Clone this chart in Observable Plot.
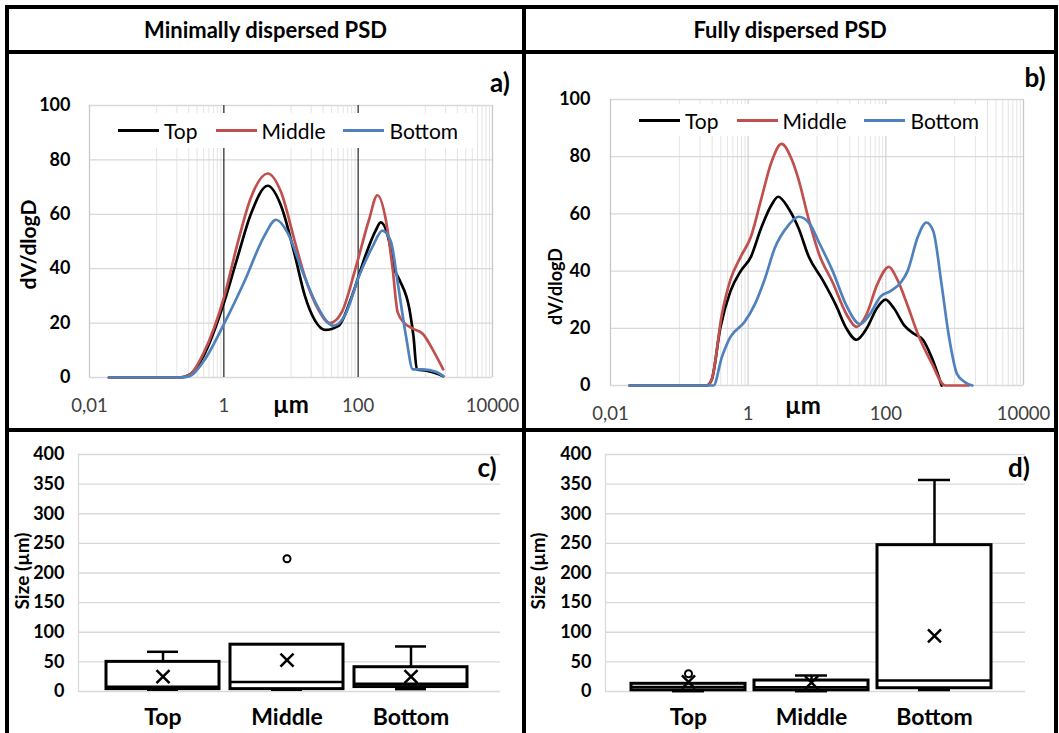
<!DOCTYPE html>
<html><head><meta charset="utf-8">
<script src="https://cdn.jsdelivr.net/npm/d3@7"></script>
<script src="https://cdn.jsdelivr.net/npm/@observablehq/plot@0.6"></script>
<style>
body{margin:0;background:#fff;font-family:Lato,sans-serif;}
#fig{position:relative;width:1059px;height:733px;overflow:hidden;background:#fff}
.bar{position:absolute;background:#000;z-index:5}
.hdr{position:absolute;top:9px;height:41px;display:flex;align-items:center;justify-content:center;font-weight:bold;font-size:22px;color:#000}
.legend{position:absolute;background:#fff;display:flex;align-items:center;font-size:21px;color:#000;box-sizing:border-box;z-index:3}
.legend .it{display:flex;align-items:center;margin-right:18px}
.legend .sw{display:inline-block;width:41px;height:3px;margin-right:5px}
.tag{position:absolute;font-weight:bold;font-size:26px;transform:translate(-50%,-50%);z-index:4}
</style></head>
<body>
<div id="fig"></div>
<script>
// ---------- data ----------
const series = ["Top", "Middle", "Bottom"];
const colors = ["#000000", "#c0504d", "#4f81bd"];
const sizeTicks = [0.01, 1, 100, 10000];
const sizeTickLabels = ["0,01", "1", "100", "10000"];
const minorGrid = [0.1,0.2,0.3,0.4,0.5,0.6,0.7,0.8,0.9,10,20,30,40,50,60,70,80,90,1000,2000,3000,4000,5000,6000,7000,8000,9000];
const psdTicks = [0, 20, 40, 60, 80, 100];
const boxTicks = [0, 50, 100, 150, 200, 250, 300, 350, 400];

// Panel a: minimally dispersed PSD  [size µm, dV/dlogD]
const aTop = [[0.0195,0],[0.22,0],[0.31,1],[0.5,8],[1.02,28],[1.59,44],[2.52,60],[4.5,70.5],[7.15,63],[11.4,45],[16.1,30],[22.7,21],[32,17.5],[51,19],[81,30],[129,45],[182,54],[217,57],[290,50],[345,40],[410,36],[581,25],[667,15],[748,3],[1035,2.5],[1466,1.5],[1846,0.5]];
const aMiddle = [[0.0195,0],[0.22,0],[0.31,1],[0.5,9],[1.02,30],[1.59,49],[2.52,66],[4.5,75],[7.15,68],[11.4,50],[16.1,37],[25.5,25],[38,20],[57,24],[91,40],[145,58],[193,67],[258,58],[326,40],[387,24],[488,20],[652,18],[922,16],[1306,10],[1846,3]];
const aBottom = [[0.0195,0],[0.22,0],[0.31,0.5],[0.5,6],[1.02,20],[2.0,35],[4.0,52],[6.0,58],[9.0,53],[14.3,40],[22.7,28],[36,20],[43,19],[64,23],[102,37],[163,48],[230,54],[307,50],[387,35],[517,15],[652,3],[922,3],[1466,2],[1846,0.5]];

// Panel b: fully dispersed PSD
const bTop = [[0.019,0],[0.25,0],[0.295,2],[0.393,20],[0.553,33],[0.778,40],[1.096,45],[1.54,55],[2.17,63],[2.73,66],[3.84,62],[5.4,55],[7.6,45],[12.0,37],[18.9,28],[26.7,20],[37.5,16],[52.8,20],[74,27],[99,30],[131,27],[185,21],[260,18],[346,16],[460,10],[648,0]];
const bMiddle = [[0.019,0],[0.25,0],[0.295,2],[0.416,25],[0.553,37],[0.778,45],[1.096,52],[1.54,65],[2.17,78],[3.05,84.5],[4.3,79],[5.4,72],[7.6,58],[10.7,46],[16.9,36],[26.7,25],[37.5,20.5],[52.8,25],[74,35],[111,41.5],[147,37],[207,28],[292,18],[460,8],[727,0],[1614,0]];
const bBottom = [[0.019,0],[0.313,0],[0.416,10],[0.553,17],[0.873,22],[1.228,28],[1.73,37],[2.43,48],[3.84,56],[5.4,59],[7.6,57],[10.7,50],[16.9,40],[26.7,28],[42,21.5],[59,25],[83,31],[117,33],[165,36],[207,40],[292,52],[388,57],[488,54],[648,35],[815,18],[1084,4],[1439,1],[1808,0]];

// Panel c: box plots, minimally dispersed (µm)
const cLow = [3, 3, 4];
const cQ1 = [4, 4, 7.5];
const cMedian = [8, 16, 13];
const cQ3 = [50, 79, 41];
const cHigh = [67, 79, 76];
const cMean = [25, 53, 25];
const cOutliers = [["Middle", 224]];

// Panel d: box plots, fully dispersed (µm)
const dLow = [0.5, 0.5, 2.5];
const dQ1 = [2, 2, 5.5];
const dMedian = [7.5, 7, 18.5];
const dQ3 = [13, 18.5, 247];
const dHigh = [13, 27, 357];
const dMean = [16, 15, 94];
const dOutliers = [["Top", 30]];

// ---------- layout helpers ----------
const fig = document.getElementById("fig");
function place(el, left, top) { el.style.position = "absolute"; el.style.left = left + "px"; el.style.top = top + "px"; fig.appendChild(el); }
function div(cls, css, html) { const d = document.createElement("div"); d.className = cls; Object.assign(d.style, css); if (html != null) d.innerHTML = html; fig.appendChild(d); return d; }

const fmt = new Map(sizeTicks.map((d, i) => [d, sizeTickLabels[i]]));
const psdRows = (sets) => sets.flatMap(([name, pts]) => pts.map(([size, value]) => ({series: name, size, value})));

function psdPanel(o) {
  const rows = psdRows(o.sets);
  return Plot.plot({
    width: o.w, height: o.h,
    marginLeft: o.ml, marginRight: o.mr, marginTop: o.mt, marginBottom: o.mb,
    style: {fontFamily: "Lato, sans-serif", background: "transparent", overflow: "visible"},
    x: {type: "log", domain: [0.01, 10000]},
    y: {domain: [0, 100]},
    color: {domain: series, range: colors},
    marks: [
      Plot.ruleX(minorGrid, {stroke: "#e4e4e4", strokeWidth: 1}),
      Plot.ruleY(psdTicks, {stroke: "#d9d9d9", strokeWidth: 1.3}),
      Plot.ruleX([0.01, 10000], {stroke: "#c8c8c8", strokeWidth: 1.3}),
      Plot.ruleX([1, 100], {stroke: o.major, strokeWidth: o.majorW}),
      Plot.line(rows, {x: "size", y: "value", z: "series", stroke: "series", strokeWidth: 2.7, curve: "monotone-x"}),
      Plot.axisX({ticks: sizeTicks, tickFormat: d => fmt.get(d), tickSize: 0, tickPadding: 21, fontSize: 18.5, fill: "#404040", label: null}),
      Plot.axisY({ticks: psdTicks, tickSize: 0, tickPadding: o.yPad, fontSize: 18, fontWeight: "bold", fill: "#000", label: null}),
      Plot.text(["µm"], {frameAnchor: "bottom", textAnchor: "middle", dx: o.unitDx, dy: o.unitDy, fontSize: 24, fontWeight: "bold", fill: "#000"}),
      Plot.text(["dV/dlogD"], {frameAnchor: "left", textAnchor: "middle", rotate: -90, dx: o.titleDx, dy: o.titleDy, fontSize: o.titleSize, fontWeight: "bold", fill: "#000"})
    ]
  });
}

function boxPanel(o) {
  const rows = series.map((g, i) => ({g, lo: o.lo[i], q1: o.q1[i], med: o.med[i], q3: o.q3[i], hi: o.hi[i], mean: o.mean[i]}));
  const outs = o.outliers.map(([g, v]) => ({g, v}));
  const k = {stroke: "#000"};
  return Plot.plot({
    width: o.w, height: o.h,
    marginLeft: o.ml, marginRight: o.mr, marginTop: o.mt, marginBottom: o.mb,
    style: {fontFamily: "Lato, sans-serif", background: "transparent", overflow: "visible"},
    x: {type: "band", domain: series, insetLeft: o.il, insetRight: o.ir, paddingInner: o.pi, paddingOuter: o.po},
    y: {domain: [0, 400]},
    marks: [
      Plot.ruleY(boxTicks, {stroke: "#d9d9d9", strokeWidth: 1.3}),
      Plot.frame({anchor: "left", stroke: "#d9d9d9", strokeWidth: 1.3}),
      Plot.ruleX(rows, {x: "g", y1: "q3", y2: "hi", ...k, strokeWidth: 2.5}),
      Plot.ruleX(rows, {x: "g", y1: "lo", y2: "q1", ...k, strokeWidth: 2.5}),
      Plot.tickY(rows, {x: "g", y: "hi", insetLeft: 41, insetRight: 41, ...k, strokeWidth: 2.5}),
      Plot.tickY(rows, {x: "g", y: "lo", insetLeft: 41, insetRight: 41, ...k, strokeWidth: 2.5}),
      Plot.barY(rows, {x: "g", y1: "q1", y2: "q3", fill: "#fff", ...k, strokeWidth: 3}),
      Plot.tickY(rows, {x: "g", y: "med", ...k, strokeWidth: 2.5}),
      Plot.dot(rows, {x: "g", y: "mean", symbol: "times", r: 6, ...k, strokeWidth: 2.5}),
      Plot.dot(outs, {x: "g", y: "v", r: 3.5, fill: "#fff", ...k, strokeWidth: 2}),
      Plot.axisX({tickSize: 0, tickPadding: 17, fontSize: 23, fontWeight: "bold", fill: "#000", label: null}),
      Plot.axisY({ticks: boxTicks, tickSize: 0, tickPadding: 14, fontSize: 18, fontWeight: "bold", fill: "#000", label: null}),
      Plot.text(["Size (µm)"], {frameAnchor: "left", textAnchor: "middle", rotate: -90, dx: o.titleDx, dy: -2, fontSize: 19, fontWeight: "bold", fill: "#000"})
    ]
  });
}

// ---------- panels ----------
place(psdPanel({sets: [["Top", aTop], ["Middle", aMiddle], ["Bottom", aBottom]],
  w: 512, h: 373, ml: 80, mr: 29, mt: 51, mb: 50, major: "#404040", majorW: 1.4, yPad: 19,
  unitDx: 0, unitDy: 35, titleDx: -60, titleDy: 3, titleSize: 21}), 9, 54);
place(psdPanel({sets: [["Top", bTop], ["Middle", bMiddle], ["Bottom", bBottom]],
  w: 528, h: 373, ml: 84, mr: 31, mt: 45, mb: 42, major: "#d4d4d4", majorW: 1.3, yPad: 20,
  unitDx: -14, unitDy: 28, titleDx: -54, titleDy: 44, titleSize: 18}), 526, 54);
place(boxPanel({lo: cLow, q1: cQ1, med: cMedian, q3: cQ3, hi: cHigh, mean: cMean, outliers: cOutliers,
  w: 512, h: 301, ml: 69, mr: 21, mt: 22, mb: 42, il: 22, ir: 28, pi: 0.09, po: 0.045, titleDx: -56}), 9, 432);
place(boxPanel({lo: dLow, q1: dQ1, med: dMedian, q3: dQ3, hi: dHigh, mean: dMean, outliers: dOutliers,
  w: 528, h: 301, ml: 79, mr: 29, mt: 22, mb: 42, il: 21, ir: 29, pi: 0.07, po: 0.035, titleDx: -67}), 526, 432);

// ---------- legends ----------
function legend(left, top, width, height, padLeft) {
  const lg = div("legend", {left: left + "px", top: top + "px", width: width + "px", height: height + "px", paddingLeft: padLeft + "px"});
  series.forEach((s, i) => {
    const it = document.createElement("div"); it.className = "it";
    const sw = document.createElement("span"); sw.className = "sw"; sw.style.background = colors[i];
    const tx = document.createElement("span"); tx.textContent = s;
    it.appendChild(sw); it.appendChild(tx); lg.appendChild(it);
  });
}
legend(111, 113, 362, 35, 7);
legend(630, 104, 352, 32, 9);

// ---------- headers, tags, table borders ----------
div("hdr", {left: "9px", width: "513px"}, "Minimally dispersed PSD");
div("hdr", {left: "526px", width: "528px"}, "Fully dispersed PSD");
div("tag", {left: "500px", top: "82px"}, "a)");
div("tag", {left: "1035px", top: "77px"}, "b)");
div("tag", {left: "487px", top: "467px"}, "c)");
div("tag", {left: "1019px", top: "467px"}, "d)");
[[5,5,1053,4],[5,5,4,728],[1054,5,4,728],[5,50,1053,4],[5,428,1053,4],[522,5,4,728]]
  .forEach(([l,t,w,h]) => div("bar", {left: l+"px", top: t+"px", width: w+"px", height: h+"px"}));
</script>
</body></html>
